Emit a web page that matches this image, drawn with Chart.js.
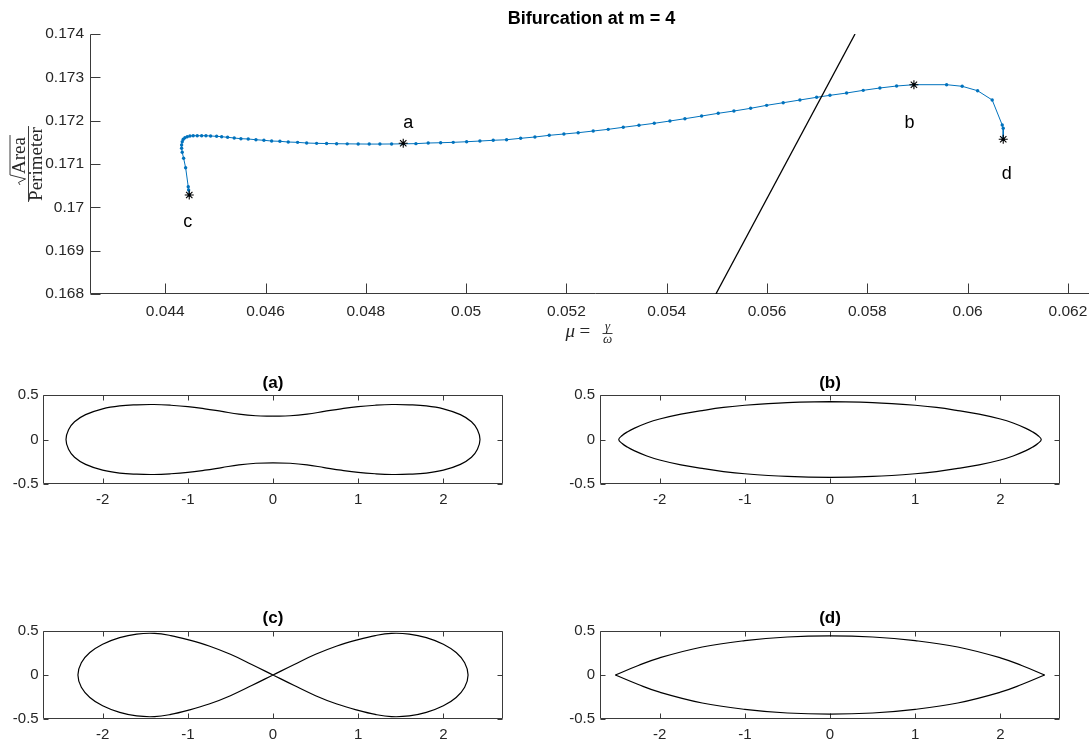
<!DOCTYPE html>
<html><head><meta charset="utf-8">
<script src="https://cdn.jsdelivr.net/npm/chart.js@4.4.1/dist/chart.umd.min.js"></script>
<style>
html,body{margin:0;padding:0;background:#fff;overflow:hidden;width:1089px;height:742px;}
.box{position:absolute;overflow:hidden;}
canvas{display:block;}
</style></head><body>
<div class="box" style="left:0;top:0;width:1089px;height:352px;"><canvas id="cMain" width="1100" height="352"></canvas></div>
<div class="box" style="left:0;top:365px;width:545px;height:150px;"><canvas id="cA" width="545" height="150"></canvas></div>
<div class="box" style="left:545px;top:365px;width:544px;height:150px;"><canvas id="cB" width="544" height="150"></canvas></div>
<div class="box" style="left:0;top:600px;width:545px;height:142px;"><canvas id="cC" width="545" height="150"></canvas></div>
<div class="box" style="left:545px;top:600px;width:544px;height:142px;"><canvas id="cD" width="544" height="150"></canvas></div>
<script>
// ---------- main bifurcation curve ----------
const muVals = [
 0.044479, 0.044467, 0.044459, 0.044407, 0.044367, 0.044339, 0.044327, 0.044327, 0.044339, 0.044359,
 0.044393, 0.044439, 0.044493, 0.044558, 0.044638, 0.044726, 0.044812, 0.044905, 0.045025, 0.045125,
 0.045244, 0.045376, 0.045509, 0.045655, 0.045809, 0.045968, 0.046122, 0.046287, 0.046453, 0.04664,
 0.04682, 0.047019, 0.047218, 0.047418, 0.047629, 0.047848, 0.048068, 0.048281, 0.048514, 0.048746,
 0.048999, 0.049244, 0.049492, 0.049743, 0.05001, 0.050275, 0.05054, 0.050807, 0.051087, 0.051372,
 0.051657, 0.05195, 0.052235, 0.052534, 0.052833, 0.053133, 0.053446, 0.053751, 0.054064, 0.054363,
 0.054696, 0.055027, 0.05534, 0.055673, 0.055992, 0.056323, 0.056656, 0.056989, 0.057254, 0.057587,
 0.057918, 0.058251, 0.058584, 0.058929, 0.059581, 0.059892, 0.060199, 0.06049, 0.06069, 0.06071, 0.06071];
const ratioVals = [
 0.170284, 0.1704, 0.170476, 0.170914, 0.171131, 0.17127, 0.171362, 0.171438, 0.171514, 0.17157,
 0.171607, 0.17163, 0.171646, 0.171653, 0.171653, 0.171653, 0.171653, 0.171646, 0.171639, 0.17163,
 0.171616, 0.1716, 0.171584, 0.171577, 0.17156, 0.171547, 0.17153, 0.171524, 0.171507, 0.1715,
 0.171484, 0.171477, 0.171472, 0.171468, 0.171465, 0.171462, 0.17146, 0.17146, 0.171462, 0.171465,
 0.17147, 0.171484, 0.171491, 0.1715, 0.171514, 0.17153, 0.171547, 0.17156, 0.171593, 0.171623,
 0.171662, 0.171692, 0.171722, 0.171761, 0.1718, 0.171847, 0.171893, 0.171939, 0.171992, 0.172045,
 0.172107, 0.17217, 0.172223, 0.172285, 0.172354, 0.172414, 0.172477, 0.172539, 0.172585, 0.172638,
 0.1727, 0.172754, 0.1728, 0.17283, 0.17283, 0.172793, 0.172691, 0.172477, 0.1719, 0.171824, 0.17157];
const lineMu = [0.05498, 0.057755];
const lineRatio = [0.168, 0.174];
const starNames = ['a', 'b', 'c', 'd'];
const starMu = [0.048746, 0.058929, 0.044479, 0.06071];
const starRatio = [0.17148, 0.17283, 0.170284, 0.17157];
const muTicks = [0.044, 0.046, 0.048, 0.05, 0.052, 0.054, 0.056, 0.058, 0.06, 0.062];
const muTickLabels = ['0.044','0.046','0.048','0.05','0.052','0.054','0.056','0.058','0.06','0.062'];
const ratioTicks = [0.168, 0.169, 0.17, 0.171, 0.172, 0.173, 0.174];
const ratioTickLabels = ['0.168','0.169','0.17','0.171','0.172','0.173','0.174'];

// ---------- shapes ----------
const shapeAX = [0, 0.2, 0.4, 0.6, 0.8, 1.0, 1.2, 1.4, 1.6, 1.8, 2.0, 2.2, 2.33, 2.40, 2.43,
 2.40, 2.33, 2.2, 2.0, 1.8, 1.6, 1.4, 1.2, 1.0, 0.8, 0.6, 0.4, 0.2, 0,
 -0.2, -0.4, -0.6, -0.8, -1.0, -1.2, -1.4, -1.6, -1.8, -2.0, -2.2, -2.33, -2.40, -2.43,
 -2.40, -2.33, -2.2, -2.0, -1.8, -1.6, -1.4, -1.2, -1.0, -0.8, -0.6, -0.4, -0.2, 0];
const shapeAY = [0.262, 0.267, 0.285, 0.315, 0.345, 0.37, 0.385, 0.393, 0.39, 0.378, 0.345, 0.28, 0.20, 0.11, 0,
 -0.11, -0.20, -0.28, -0.345, -0.378, -0.39, -0.393, -0.385, -0.37, -0.345, -0.315, -0.285, -0.267, -0.262,
 -0.267, -0.285, -0.315, -0.345, -0.37, -0.385, -0.393, -0.39, -0.378, -0.345, -0.28, -0.20, -0.11, 0,
 0.11, 0.20, 0.28, 0.345, 0.378, 0.39, 0.393, 0.385, 0.37, 0.345, 0.315, 0.285, 0.267, 0.262];
const shapeBX = [0, 0.5, 1.0, 1.25, 1.5, 1.75, 2.0, 2.15, 2.3, 2.38, 2.44, 2.48,
 2.44, 2.38, 2.3, 2.15, 2.0, 1.75, 1.5, 1.25, 1.0, 0.5, 0,
 -0.5, -1.0, -1.25, -1.5, -1.75, -2.0, -2.15, -2.3, -2.38, -2.44, -2.48,
 -2.44, -2.38, -2.3, -2.15, -2.0, -1.75, -1.5, -1.25, -1.0, -0.5, 0];
const shapeBY = [0.425, 0.415, 0.385, 0.36, 0.325, 0.285, 0.23, 0.185, 0.125, 0.085, 0.045, 0,
 -0.045, -0.085, -0.125, -0.185, -0.23, -0.285, -0.325, -0.36, -0.385, -0.415, -0.425,
 -0.415, -0.385, -0.36, -0.325, -0.285, -0.23, -0.185, -0.125, -0.085, -0.045, 0,
 0.045, 0.085, 0.125, 0.185, 0.23, 0.285, 0.325, 0.36, 0.385, 0.415, 0.425];
const shapeCX = [0, -0.25, -0.5, -0.75, -1.0, -1.2, -1.39, -1.6, -1.8, -2.0, -2.15, -2.25, -2.29,
 -2.25, -2.15, -2.0, -1.8, -1.6, -1.39, -1.2, -1.0, -0.75, -0.5, -0.25, 0,
 0.25, 0.5, 0.75, 1.0, 1.2, 1.39, 1.6, 1.8, 2.0, 2.15, 2.25, 2.29,
 2.25, 2.15, 2.0, 1.8, 1.6, 1.39, 1.2, 1.0, 0.75, 0.5, 0.25, 0];
const shapeCY = [0, 0.12, 0.235, 0.33, 0.402, 0.448, 0.473, 0.465, 0.425, 0.35, 0.255, 0.14, 0,
 -0.14, -0.255, -0.35, -0.425, -0.465, -0.473, -0.448, -0.402, -0.33, -0.235, -0.12, 0,
 0.12, 0.235, 0.33, 0.402, 0.448, 0.473, 0.465, 0.425, 0.35, 0.255, 0.14, 0,
 -0.14, -0.255, -0.35, -0.425, -0.465, -0.473, -0.448, -0.402, -0.33, -0.235, -0.12, 0];
const shapeDX = [-2.52, -2.25, -2.0, -1.5, -1.0, -0.5, 0, 0.5, 1.0, 1.5, 2.0, 2.25, 2.52];
const shapeDUpper = [0, 0.108, 0.195, 0.318, 0.39, 0.432, 0.445, 0.432, 0.39, 0.318, 0.195, 0.108, 0];
const shapeDLower = [0, -0.108, -0.195, -0.318, -0.39, -0.432, -0.445, -0.432, -0.39, -0.318, -0.195, -0.108, 0];
const shapeTicksX = [-2, -1, 0, 1, 2];
const shapeTickLabelsX = ['-2', '-1', '0', '1', '2'];
const shapeTicksY = [-0.5, 0, 0.5];
const shapeTickLabelsY = ['-0.5', '0', '0.5'];

// ---------- helpers ----------
const SANS = '"Liberation Sans", Arial, Helvetica, sans-serif';
const SERIF = '"Liberation Serif", "Times New Roman", serif';
const AXC = '#262626';
const pts = (xs, ys) => xs.map((v, i) => ({x: v, y: ys[i]}));

function axesPlugin(tickLen, box) {
  return {
    id: 'matAxes',
    beforeDatasetsDraw(chart) {
      const {ctx, chartArea: a, scales: {x, y}} = chart;
      ctx.save();
      ctx.strokeStyle = '#3a3a3a'; ctx.lineWidth = 1;
      const L = Math.round(a.left) + 0.5, R = Math.round(a.right) - 0.5;
      const T = Math.round(a.top) + 0.5, B = Math.round(a.bottom) - 0.5;
      ctx.beginPath();
      ctx.moveTo(L, T); ctx.lineTo(L, B);
      ctx.lineTo(box ? R : chart.width, B);
      if (box) { ctx.lineTo(R, T); ctx.lineTo(L, T); }
      x.ticks.forEach(t => {
        const px = Math.round(x.getPixelForValue(t.value)) + 0.5;
        ctx.moveTo(px, B); ctx.lineTo(px, B - tickLen);
        if (box) { ctx.moveTo(px, T); ctx.lineTo(px, T + tickLen); }
      });
      y.ticks.forEach(t => {
        const py = Math.round(y.getPixelForValue(t.value)) + 0.5;
        ctx.moveTo(L, py); ctx.lineTo(L + tickLen, py);
        if (box) { ctx.moveTo(R, py); ctx.lineTo(R - tickLen, py); }
      });
      ctx.stroke();
      ctx.restore();
    }
  };
}

const letterPlugin = {
  id: 'letters',
  afterDatasetsDraw(chart) {
    const {ctx, scales: {x, y}} = chart;
    const offs = [[5, -15], [-4.5, 43.5], [-1.5, 31.5], [3.5, 40]];
    ctx.save();
    ctx.font = '18px ' + SANS; ctx.fillStyle = '#000';
    ctx.textAlign = 'center'; ctx.textBaseline = 'alphabetic';
    starNames.forEach((s, i) => {
      const px = x.getPixelForValue(starMu[i]), py = y.getPixelForValue(starRatio[i]);
      ctx.fillText(s, px + offs[i][0], py + offs[i][1]);
    });
    ctx.restore();
  }
};

const axisLabelPlugin = {
  id: 'axisLabels',
  afterDraw(chart) {
    const {ctx, chartArea: a} = chart;
    ctx.save();
    ctx.fillStyle = AXC; ctx.strokeStyle = AXC; ctx.lineWidth = 0.9;
    // y label: sqrt(Area)/Perimeter, rotated
    const cy = (a.top + a.bottom) / 2;
    ctx.translate(28, cy);
    ctx.rotate(-Math.PI / 2);
    ctx.font = '19px ' + SERIF;
    ctx.textBaseline = 'alphabetic'; ctx.textAlign = 'left';
    const den = 'Perimeter', wDen = ctx.measureText(den).width;
    ctx.fillText(den, -wDen / 2, 14);
    const barW = wDen + 2;
    ctx.beginPath(); ctx.moveTo(-barW / 2, 0.5); ctx.lineTo(barW / 2, 0.5); ctx.stroke();
    const num = 'Area', wNum = ctx.measureText(num).width;
    const radW = 11, tot = radW + wNum + 2;
    const xs = -tot / 2 + 4;
    ctx.fillText(num, xs + radW, -3);
    ctx.beginPath();
    ctx.moveTo(xs, -8); ctx.lineTo(xs + 2.5, -9.5); ctx.lineTo(xs + 6, -2.5);
    ctx.lineTo(xs + radW - 1, -18); ctx.lineTo(xs + radW + wNum + 2, -18);
    ctx.stroke();
    ctx.setTransform(1, 0, 0, 1, 0, 0);
    // x label: mu = gamma/omega
    const cx = (a.left + a.right) / 2 - 2;
    ctx.font = 'italic 19px ' + SERIF; ctx.textAlign = 'left';
    ctx.fillText('\u03bc', cx - 24, 337);
    ctx.font = '19px ' + SERIF;
    ctx.fillText('=', cx - 10, 337);
    ctx.font = 'italic 13px ' + SERIF; ctx.textAlign = 'center';
    ctx.fillText('\u03b3', cx + 18, 330);
    ctx.fillText('\u03c9', cx + 18, 343);
    ctx.beginPath(); ctx.moveTo(cx + 13, 333.5); ctx.lineTo(cx + 23, 333.5); ctx.stroke();
    ctx.restore();
  }
};

function tickScale(min, max, ticks, labels, fitProp, fitVal, padding, size) {
  const o = {
    type: 'linear', min: min, max: max,
    grid: {display: false, drawTicks: false}, border: {display: false},
    afterBuildTicks: s => { s.ticks = ticks.map(v => ({value: v})); },
    ticks: {padding: padding, color: AXC, font: {family: SANS, size: size},
      autoSkip: false, maxRotation: 0, minRotation: 0,
      callback: (v, i) => labels[i]}
  };
  o.afterFit = s => { s[fitProp] = fitVal; };
  return o;
}

Chart.defaults.animation = false;
Chart.defaults.events = [];
Chart.defaults.plugins.legend.display = false;
Chart.defaults.plugins.tooltip.enabled = false;

// ---------- main chart ----------
new Chart(document.getElementById('cMain'), {
  type: 'scatter',
  data: {datasets: [
    {data: pts(starMu, starRatio), showLine: false, pointStyle: 'star', pointRadius: 4.5,
     borderColor: '#000', backgroundColor: '#000', pointBorderWidth: 1.1, order: 0},
    {data: pts(lineMu, lineRatio), showLine: true, borderColor: '#000', borderWidth: 1.3,
     pointRadius: 0, order: 1},
    {data: pts(muVals, ratioVals), showLine: true, borderColor: '#0072BD', borderWidth: 1,
     pointRadius: 1.7, pointStyle: 'circle', pointBackgroundColor: '#0072BD',
     pointBorderWidth: 0, order: 2}
  ]},
  options: {
    responsive: false, devicePixelRatio: 1,
    layout: {padding: {left: 0, right: 7, top: 0, bottom: 22}},
    plugins: {title: {display: true, text: 'Bifurcation at m = 4', color: '#000', fullSize: false,
      font: {family: SANS, size: 18, weight: 'bold'}, padding: {top: 8.7, bottom: 3.7}}},
    scales: {
      x: tickScale(0.0425, 0.0625, muTicks, muTickLabels, 'height', 36, 8.5, 15.5),
      y: tickScale(0.168, 0.174, ratioTicks, ratioTickLabels, 'width', 90, 6, 15.5)
    }
  },
  plugins: [axesPlugin(10, false), letterPlugin, axisLabelPlugin]
});

// ---------- shape sub-plots ----------
function shapeChart(id, title, datasets, yWidth, rightPad, titleBottom, yPad) {
  new Chart(document.getElementById(id), {
    type: 'scatter',
    data: {datasets: datasets.map(d => ({data: d, showLine: true, borderColor: '#000',
      borderWidth: 1.2, pointRadius: 0, tension: 0.4}))},
    options: {
      responsive: false, devicePixelRatio: 1,
      layout: {padding: {left: 0, right: rightPad, top: 0, bottom: 0}},
      plugins: {title: {display: true, text: title, color: '#000', fullSize: false,
        font: {family: SANS, size: 17, weight: 'bold'}, padding: {top: 7.8, bottom: titleBottom}}},
      scales: {
        x: tickScale(-2.7, 2.7, shapeTicksX, shapeTickLabelsX, 'height', 31, 6.7, 15),
        y: tickScale(-0.5, 0.5, shapeTicksY, shapeTickLabelsY, 'width', yWidth, yPad, 15)
      }
    },
    plugins: [axesPlugin(5, true)]
  });
}
shapeChart('cA', '(a)', [pts(shapeAX, shapeAY)], 43, 42, 1.8, 4.3);
shapeChart('cB', '(b)', [pts(shapeBX, shapeBY)], 55, 29, 1.8, 5);
shapeChart('cC', '(c)', [pts(shapeCX, shapeCY)], 43, 42, 2.8, 4.3);
shapeChart('cD', '(d)', [pts(shapeDX, shapeDUpper), pts(shapeDX, shapeDLower)], 55, 29, 2.8, 5);
</script>
</body></html>
